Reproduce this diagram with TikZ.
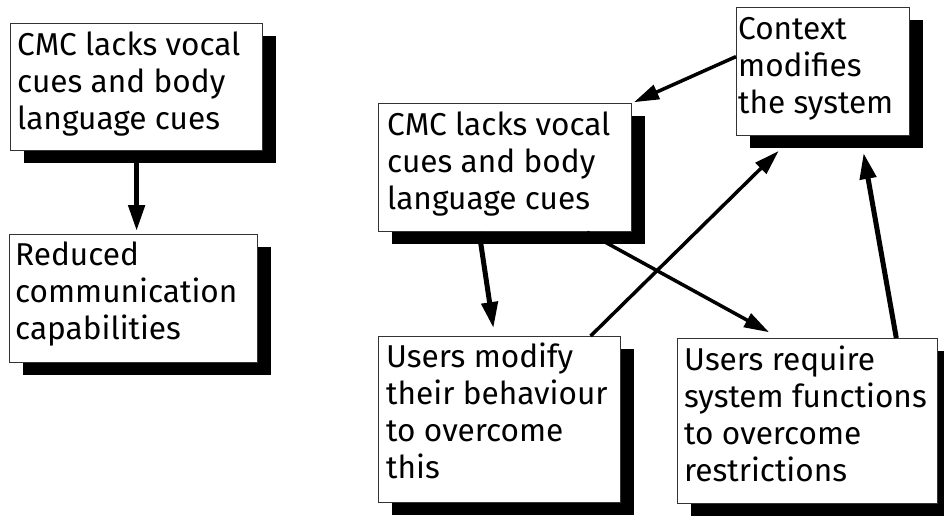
\documentclass[tikz,border=0pt]{standalone}
\usepackage{fontspec}
\setmainfont{Fira Sans}
\usetikzlibrary{arrows.meta,shadows,calc}
\tikzset{
  box/.style={draw=black!80, line width=1.2pt, fill=white, anchor=north west,
    drop shadow={shadow xshift=13pt, shadow yshift=-12pt, fill=black, opacity=1}},
  txt/.style={anchor=base west, inner sep=0pt, align=left,
    font=\fontsize{31.6}{37}\selectfont},
  thickarr/.style={line width=5pt, -{Triangle[length=26pt,width=16pt]}},
  thinarr/.style={line width=3.5pt, -{Triangle[length=25pt,width=15pt]}}
}
\begin{document}
\begin{tikzpicture}[x=1pt,y=-1pt]
\useasboundingbox (0,0) rectangle (944,515);
% boxes
\node[box, minimum width=252pt, minimum height=127pt] (b1) at (10,23) {};
\node[box, minimum width=248pt, minimum height=128pt] (b2) at (9,234) {};
\node[box, minimum width=253pt, minimum height=128pt] (cmc) at (378,103) {};
\node[box, minimum width=173pt, minimum height=128pt] (ctx) at (736,7) {};
\node[box, minimum width=242pt, minimum height=166pt] (mod) at (378,336) {};
\node[box, minimum width=260pt, minimum height=165pt] (req) at (677,338) {};
% texts (anchored at the baseline of the last line)
\node[txt] (t1) at ($(b1.north west)+(7,32+74)$) {CMC lacks vocal\\cues and body\\language cues};
\node[txt] (t2) at ($(b2.north west)+(6,31+74)$) {Reduced\\communication\\capabilities};
\node[txt] (t3) at ($(cmc.north west)+(9,32+74)$) {CMC lacks vocal\\cues and body\\language cues};
\node[txt] (t4) at ($(ctx.north west)+(2,32+74)$) {Context\\modifies\\the system};
\node[txt] (t5) at ($(mod.north west)+(8,31+111)$) {Users modify\\their behaviour\\to overcome\\this};
\node[txt] (t6) at ($(req.north west)+(7,32+111)$) {Users require\\system functions\\to overcome\\restrictions};
% connectors
\draw[thickarr, shorten >=3pt] (b1.south) -- (b1.south |- b2.north);
\draw[thinarr, shorten >=2pt] ($(ctx.west)+(0,-15)$) -- (cmc.north east);
\draw[thickarr, shorten >=8pt] ($(cmc.south)+(-26,0)$) -- ($(mod.north)+(-5,0)$);
\draw[thinarr, shorten >=12pt] ($(cmc.south)+(82,0)$) -- ($(req.north)+(-28,0)$);
\draw[thinarr, shorten >=21pt] ($(mod.north)+(91,0)$) -- ($(ctx.south)+(-29.5,0)$);
\draw[thickarr, shorten >=17pt] ($(req.north)+(88.7,0)$) -- ($(ctx.south)+(37.5,0)$);
\end{tikzpicture}
\end{document}
